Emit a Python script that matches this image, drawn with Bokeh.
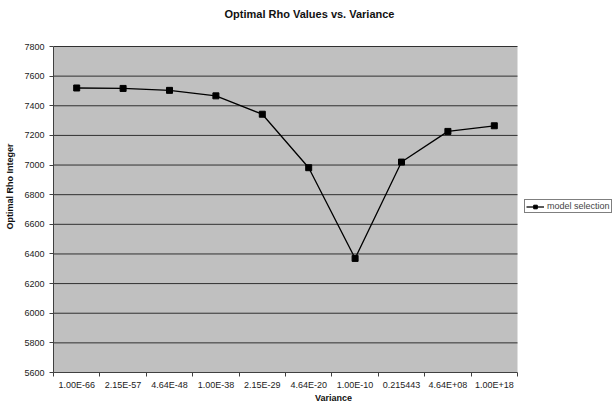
from bokeh.plotting import figure
from bokeh.models import FixedTicker, Legend, LegendItem, Range1d, BoxAnnotation, Label
from bokeh.embed import file_html
from bokeh.resources import INLINE
import numpy as np

categories = ["1.00E-66", "2.15E-57", "4.64E-48", "1.00E-38", "2.15E-29",
              "4.64E-20", "1.00E-10", "0.215443", "4.64E+08", "1.00E+18"]
rho_values = [7520, 7517, 7504, 7467, 7343, 6982, 6370, 7020, 7227, 7265]
y_ticks = list(range(5600, 7801, 200))
Y_MIN, Y_MAX = 5600, 7800

FONT = "Liberation Sans"
W, H = 613, 407
LEFT, BOTTOM = 53, 35          # pixel borders
PLOT_W, PLOT_H = 464, 326      # pixel size of the grey plot area
TOP_GAP = 46                   # white space above plot area

n = len(categories)
xs = np.arange(n) + 0.5
frame_w = W - LEFT
frame_h = H - BOTTOM
x_end = n * frame_w / PLOT_W
y_end = Y_MIN + (Y_MAX - Y_MIN) * frame_h / PLOT_H

p = figure(width=W, height=H, output_backend="svg", toolbar_location=None,
           x_range=Range1d(0, x_end), y_range=Range1d(Y_MIN, y_end),
           min_border_left=LEFT, min_border_right=0, min_border_top=0, min_border_bottom=BOTTOM,
           background_fill_color="white", border_fill_color="white")
p.outline_line_color = None

# grey plot area
p.add_layout(BoxAnnotation(left=0, right=n, bottom=Y_MIN, top=Y_MAX, fill_color="#c0c0c0",
                           fill_alpha=1.0, line_color=None, level="image"))

xt = FixedTicker(ticks=list(xs), minor_ticks=list(range(n + 1)))
p.xaxis.ticker = xt
p.xaxis.bounds = (0, n)
p.xaxis.major_label_overrides = {float(x): c for x, c in zip(xs, categories)}
p.xaxis.major_tick_out = 0
p.xaxis.major_tick_in = 0
p.xaxis.minor_tick_out = 4
p.xaxis.minor_tick_in = 0
p.xaxis.axis_label = "Variance"

p.yaxis.ticker = FixedTicker(ticks=y_ticks)
p.yaxis.bounds = (Y_MIN, Y_MAX)
p.yaxis.major_tick_out = 4
p.yaxis.major_tick_in = 0
p.yaxis.axis_label = "Optimal Rho Integer"

for ax in (p.xaxis[0], p.yaxis[0]):
    ax.axis_line_color = "#404040"
    ax.major_tick_line_color = "#404040"
    ax.major_label_text_font = FONT
    ax.major_label_text_font_size = "9px"
    ax.major_label_text_color = "#222222"
    ax.axis_label_text_font = FONT
    ax.axis_label_text_font_size = "9px"
    ax.axis_label_text_font_style = "bold"
    ax.axis_label_text_color = "#111111"
p.xaxis.minor_tick_line_color = "#404040"
p.yaxis.minor_tick_line_color = None
p.xaxis.major_label_standoff = 3
p.xaxis.axis_label_standoff = 0
p.yaxis.major_label_standoff = 5
p.yaxis.axis_label_standoff = 6

p.xgrid.grid_line_color = None
p.ygrid.grid_line_color = None

# horizontal gridlines, limited to the plot area
grid_y = y_ticks[1:]
p.segment(x0=[0] * len(grid_y), x1=[n] * len(grid_y), y0=grid_y, y1=grid_y,
          line_color="#303030", line_width=1, level="underlay")

ln = p.line(xs, rho_values, line_color="black", line_width=1.3)
sc = p.scatter(xs, rho_values, marker="square", size=6, fill_color="black", line_color="black")

# title
title_x = (309 - LEFT) / PLOT_W * n
title_y = Y_MAX + (TOP_GAP - 13) / PLOT_H * (Y_MAX - Y_MIN)
p.add_layout(Label(x=title_x, y=title_y, text="Optimal Rho Values vs. Variance",
                   text_font=FONT, text_font_size="11px", text_font_style="bold",
                   text_align="center", text_baseline="middle", text_color="#111111"))

legend = Legend(items=[LegendItem(label="model selection", renderers=[ln, sc])],
                location=(524 - LEFT, frame_h - 213), label_text_font=FONT,
                label_text_font_size="9px",
                border_line_color="black", border_line_width=1, padding=1, spacing=0,
                glyph_width=18, glyph_height=9, label_height=9, label_standoff=3,
                margin=0, background_fill_color="white")
p.add_layout(legend, "center")

open("out.html", "w").write(file_html(p, INLINE))
